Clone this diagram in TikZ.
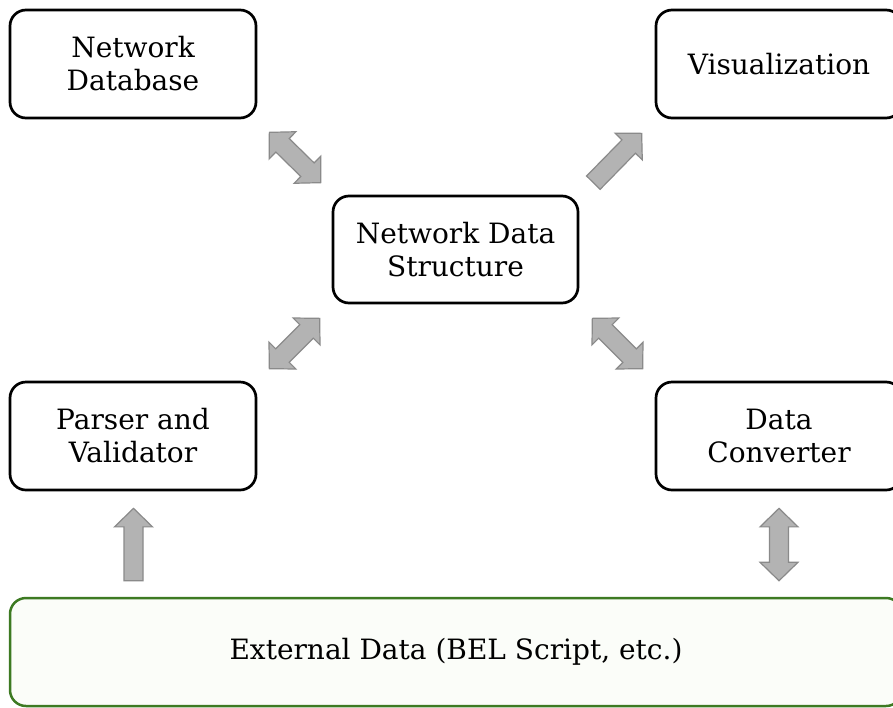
\documentclass[tikz,border=0pt]{standalone}
\usepackage{fontspec}
\setmainfont{DejaVu Serif}
\usetikzlibrary{calc}
\definecolor{boxgreen}{HTML}{3D7A22}
\definecolor{boxgreenfill}{HTML}{FBFDF9}
\definecolor{arrowgray}{HTML}{B3B3B3}
\definecolor{arrowedge}{HTML}{8A8A8A}
\def\ahl{18.5pt}
\def\ahw{19pt}
\def\asw{9.5pt}
\newcommand\blockdbl[2]{%
  \path ($(#1)!\ahl!(#2)$) coordinate (p1) ($(#2)!\ahl!(#1)$) coordinate (p2);
  \draw[barrow] (#1) -- ($(p1)!\ahw!90:(#2)$) -- ($(p1)!\asw!90:(#2)$)
    -- ($(p2)!\asw!-90:(#1)$) -- ($(p2)!\ahw!-90:(#1)$) -- (#2)
    -- ($(p2)!\ahw!90:(#1)$) -- ($(p2)!\asw!90:(#1)$)
    -- ($(p1)!\asw!-90:(#2)$) -- ($(p1)!\ahw!-90:(#2)$) -- cycle;}
\newcommand\blocksgl[2]{%
  \path ($(#2)!\ahl!(#1)$) coordinate (p2);
  \draw[barrow] ($(#1)!\asw!90:(#2)$) -- ($(p2)!\asw!-90:(#1)$)
    -- ($(p2)!\ahw!-90:(#1)$) -- (#2) -- ($(p2)!\ahw!90:(#1)$)
    -- ($(p2)!\asw!90:(#1)$) -- ($(#1)!\asw!-90:(#2)$) -- cycle;}
\tikzset{
  compbox/.style={draw=black, line width=2.7pt, rounded corners=16pt, fill=white,
    minimum width=246pt, minimum height=108pt, align=center, inner sep=0pt,
    font=\fontsize{28pt}{33pt}\selectfont},
  extbox/.style={compbox, draw=boxgreen, line width=2.5pt, fill=boxgreenfill, minimum width=892pt},
  barrow/.style={fill=arrowgray, draw=arrowedge, line width=1.2pt, line join=miter},
}
\begin{document}
\begin{tikzpicture}[x=1pt, y=-1pt]
\useasboundingbox (0,0) rectangle (893,707);
\fill[white] (0,0) rectangle (893,707);
\begin{scope}
\clip (0,0) rectangle (893,707);
\node[compbox] (ndb) at (133,64) {Network\\Database};
\node[compbox] (vis) at (779,64) {Visualization};
\node[compbox, minimum width=245pt, minimum height=107pt] (nds) at (455.5,249.5) {Network Data\\Structure};
\node[compbox] (par) at (133,436) {Parser and\\Validator};
\node[compbox] (conv) at (779,436) {Data\\Converter};
\node[extbox] (ext) at (456,652) {External Data (BEL Script, etc.)};

\coordinate (a1) at ($(ndb.south east)+(12,13)$);
\coordinate (a2) at ($(nds.north west)+(-11,-12)$);
\blockdbl{a1}{a2}
\coordinate (b1) at ($(nds.north east)+(14,-12)$);
\coordinate (b2) at ($(vis.south west)+(-13,14)$);
\blocksgl{b1}{b2}
\coordinate (c1) at ($(par.north east)+(12,-12)$);
\coordinate (c2) at ($(nds.south west)+(-12,14)$);
\blockdbl{c1}{c2}
\coordinate (d1) at ($(conv.north west)+(-12,-12)$);
\coordinate (d2) at ($(nds.south east)+(13,14)$);
\blockdbl{d1}{d2}
\coordinate (e1) at ($(par.south |- ext.north)+(0.5,-16)$);
\coordinate (e2) at ($(par.south)+(0.5,17)$);
\blocksgl{e1}{e2}
\coordinate (f1) at ($(conv.south)+(0,17)$);
\coordinate (f2) at ($(conv.south |- ext.north)+(0,-16)$);
\blockdbl{f1}{f2}
\end{scope}
\end{tikzpicture}
\end{document}
